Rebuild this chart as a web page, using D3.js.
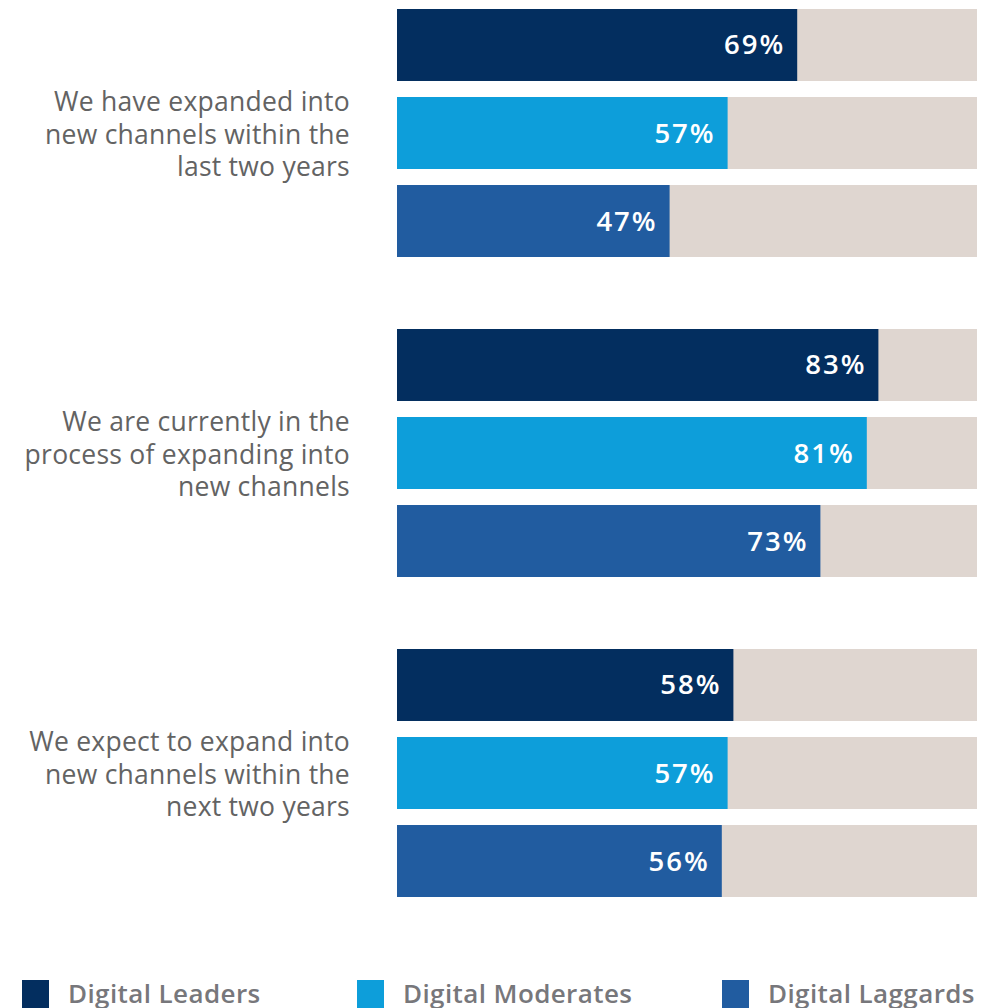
<!DOCTYPE html>
<html>
<head>
<meta charset="utf-8">
<script src="https://cdn.jsdelivr.net/npm/d3@7"></script>
<style>
  body { margin: 0; background: #fff; }
  svg { display: block; font-family: 'Open Sans', sans-serif; }
</style>
</head>
<body>
<div class="chart"></div>
<script>
const w = 982;
const h = 1008;

// data
const questions = [
  ['We have expanded into', 'new channels within the', 'last two years'],
  ['We are currently in the', 'process of expanding into', 'new channels'],
  ['We expect to expand into', 'new channels within the', 'next two years']
];
const segments = ['Digital Leaders', 'Digital Moderates', 'Digital Laggards'];
const leaders = [69, 83, 58];
const moderates = [57, 81, 57];
const laggards = [47, 73, 56];
const colors = ['#032e5f', '#0d9eda', '#215ca0'];

const values = [leaders, moderates, laggards];

const svg = d3.select('.chart')
  .append('svg')
  .attr('width', w)
  .attr('height', h);

const xScale = d3.scaleLinear().domain([0, 100]).range([397, 977]);

const groupScale = d3.scaleBand()
  .domain(d3.range(questions.length))
  .range([9, 897])
  .paddingInner(0.225)
  .paddingOuter(0);

const barScale = d3.scaleBand()
  .domain(d3.range(segments.length))
  .range([0, groupScale.bandwidth()])
  .paddingInner(0.182)
  .paddingOuter(0);

const groups = svg.selectAll('g.group')
  .data(questions)
  .enter()
  .append('g')
  .attr('class', 'group')
  .attr('transform', (d, i) => `translate(0,${groupScale(i)})`);

// category labels
groups.append('text')
  .attr('text-anchor', 'end')
  .attr('fill', '#636363')
  .style('font-size', '26.5px')
  .style('letter-spacing', '0.25px')
  .selectAll('tspan')
  .data((d) => d)
  .enter()
  .append('tspan')
  .attr('x', 350)
  .attr('y', (d, i, nodes) => groupScale.bandwidth() / 2 + (i - (nodes.length - 1) / 2) * 32.5 + 10.5)
  .text((d) => d);

groups.each(function (q, gi) {
  const g = d3.select(this);
  segments.forEach((s, si) => {
    const v = values[si][gi];
    const y = barScale(si);
    // background track
    g.append('rect')
      .attr('x', xScale(0))
      .attr('y', y)
      .attr('width', xScale(100) - xScale(0))
      .attr('height', barScale.bandwidth())
      .attr('fill', '#dfd6d0');
    g.append('rect')
      .attr('x', xScale(0))
      .attr('y', y)
      .attr('width', xScale(v) - xScale(0))
      .attr('height', barScale.bandwidth())
      .attr('fill', colors[si]);
    g.append('text')
      .attr('x', xScale(v) - 12)
      .attr('y', y + barScale.bandwidth() / 2 + 9.5)
      .attr('text-anchor', 'end')
      .attr('fill', '#fff')
      .style('font-size', '27.5px')
      .style('font-weight', 600)
      .style('letter-spacing', '2px')
      .text(v + '%');
  });
});

// legend
const legendX = [22, 357, 722];
const legend = svg.selectAll('g.legend')
  .data(segments)
  .enter()
  .append('g')
  .attr('class', 'legend')
  .attr('transform', (d, i) => `translate(${legendX[i]},980)`);

legend.append('rect')
  .attr('width', 27)
  .attr('height', 28)
  .attr('fill', (d, i) => colors[i]);

legend.append('text')
  .attr('x', 46)
  .attr('y', 23)
  .attr('fill', '#77777b')
  .style('font-size', '26px')
  .style('font-weight', 600)
  .style('letter-spacing', '0.4px')
  .text((d) => d);
</script>
</body>
</html>
